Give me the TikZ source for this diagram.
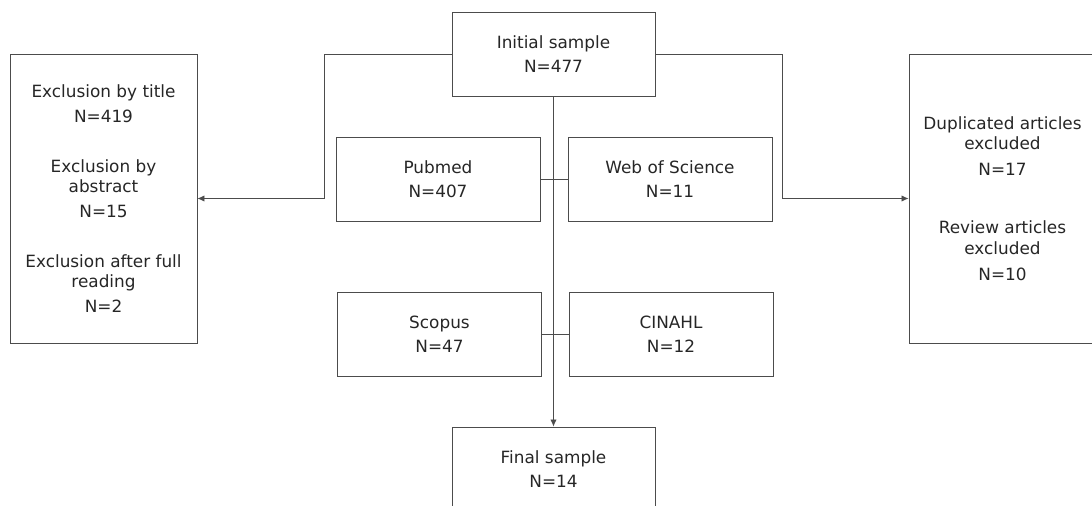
\documentclass[tikz,border=0pt]{standalone}
\usepackage{fontspec}
\setmainfont{DejaVu Sans}
\usetikzlibrary{arrows.meta}

\tikzset{
    box/.style={draw=black!70, line width=0.6pt, text=black!85, align=center,
        font=\fontsize{12}{14.4}\selectfont, inner sep=0pt},
    link/.style={draw=black!70, line width=0.6pt},
    arrow/.style={link, -{Latex[length=5pt, width=4.5pt]}}
}

\begin{document}
\begin{tikzpicture}[x=0.025cm, y=0.025cm]
    \useasboundingbox (0, 0) rectangle (1092, 506);

    % Central column
    \node[box, minimum width=5.075cm, minimum height=2.1cm] (init) at (553.5, 452) {Initial sample\\[3pt]N=477};
    \node[box, minimum width=5.1cm, minimum height=2.1cm] (pubmed) at (438, 327) {Pubmed\\[3pt]N=407};
    \node[box, minimum width=5.1cm, minimum height=2.1cm] (wos) at (670, 327) {Web of Science\\[3pt]N=11};
    \node[box, minimum width=5.1cm, minimum height=2.1cm] (scopus) at (439.5, 171.5) {Scopus\\[3pt]N=47};
    \node[box, minimum width=5.1cm, minimum height=2.1cm] (cinahl) at (671, 171.5) {CINAHL\\[3pt]N=12};
    \node[box, minimum width=5.075cm, minimum height=2.1cm] (final) at (553.5, 37) {Final sample\\[3pt]N=14};

    % Exclusion boxes
    \node[box, minimum width=4.675cm, minimum height=7.225cm] (left) at (103.5, 307.5) {%
        Exclusion by title\\[3.5pt]N=419\\[21pt]
        Exclusion by\\abstract\\[3.5pt]N=15\\[21pt]
        Exclusion after full\\reading\\[3.5pt]N=2};
    \node[box, minimum width=4.675cm, minimum height=7.225cm] (right) at (1002.5, 307.5) {%
        Duplicated articles\\excluded\\[4pt]N=17\\[27pt]
        Review articles\\excluded\\[4pt]N=10};

    % Connectors
    \draw[arrow] (init.south) -- (final.north);
    \draw[link] (pubmed.east) -- (wos.west);
    \draw[link] (scopus.east) -- (cinahl.west);
    \draw[arrow] (init.west) -- ++(-127, 0) |- (left.east);
    \draw[arrow] (init.east) -- ++(127, 0) |- (right.west);
\end{tikzpicture}
\end{document}
